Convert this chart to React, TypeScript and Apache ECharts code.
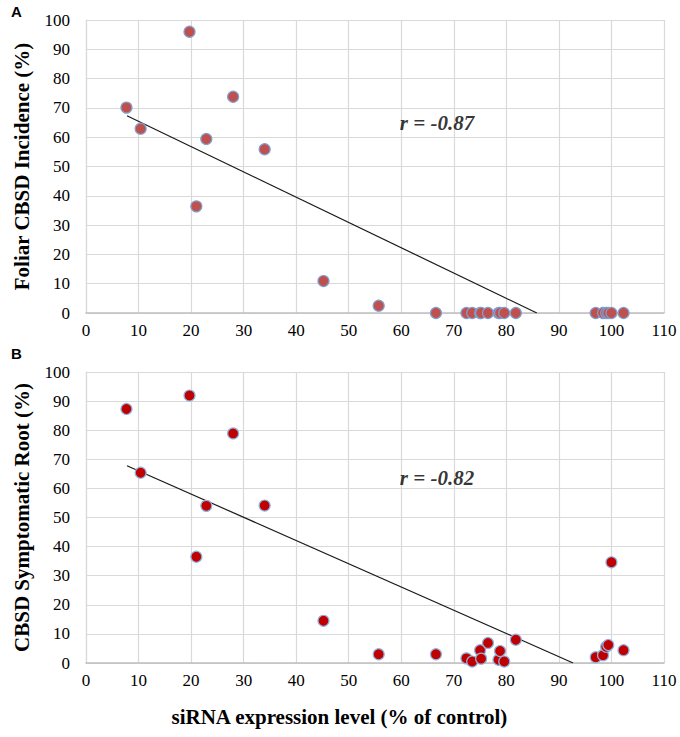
import React, { useEffect, useRef } from "react";
import * as echarts from "echarts";

const xValues = [7.7, 10.4, 19.7, 21.0, 22.9, 28.0, 34.0, 45.2, 55.7, 66.6, 72.4, 73.5, 75.0, 75.2, 76.5, 78.5, 78.8, 79.6, 81.8, 97.0, 98.4, 99.0, 99.4, 100.0, 102.3];
const foliarValues = [70.1, 62.9, 96.0, 36.4, 59.4, 73.8, 55.9, 10.9, 2.5, 0, 0, 0, 0, 0, 0, 0, 0, 0, 0, 0, 0, 0, 0, 0, 0];
const rootValues = [87.3, 65.4, 91.9, 36.5, 54.0, 78.9, 54.1, 14.5, 3.0, 3.0, 1.6, 0.5, 4.4, 1.5, 6.9, 1.1, 4.1, 0.5, 8.0, 2.0, 2.7, 5.6, 6.2, 34.6, 4.4];
const foliarTrend = [[7.8, 67.3], [85.8, 0]];
const rootTrend = [[7.8, 67.8], [92.7, 0]];
const foliarR = "r = -0.87";
const rootR = "r = -0.82";
const foliarRPos = [66.8, 64.8];
const rootRPos = [66.8, 63.6];
const xTicks = { min: 0, max: 110, interval: 10 };
const yTicks = { min: 0, max: 100, interval: 10 };
const yNames = ["Foliar CBSD Incidence (%)", "CBSD Symptomatic Root (%)"];
const xName = "siRNA expression level (% of control)";
const panelLetters = ["A", "B"];

const serif = "Liberation Serif";

export default function App() {
  const ref = useRef<HTMLDivElement>(null);
  useEffect(() => {
    const chart = echarts.init(ref.current!, null, { renderer: "svg" });
    const xAxis = [0, 1].map((i) => ({
      type: "value",
      gridIndex: i,
      min: xTicks.min,
      max: xTicks.max,
      interval: xTicks.interval,
      axisLine: { show: true, lineStyle: { color: "#BFBFBF", width: 1.5 } },
      axisTick: { show: false },
      axisLabel: { color: "#000000", fontFamily: serif, fontSize: 17, margin: 9 },
      splitLine: { show: true, lineStyle: { color: "#D9D9D9", width: 1.2 } },
    }));
    const yAxis = [0, 1].map((i) => ({
      type: "value",
      gridIndex: i,
      min: yTicks.min,
      max: yTicks.max,
      interval: yTicks.interval,
      name: yNames[i],
      nameLocation: "middle",
      nameGap: 54,
      nameTextStyle: { color: "#000000", fontFamily: serif, fontSize: 21, fontWeight: "bold" },
      axisLine: { show: true, lineStyle: { color: "#D9D9D9", width: 1.2 } },
      axisTick: { show: false },
      axisLabel: { color: "#000000", fontFamily: serif, fontSize: 17, margin: 16 },
      splitLine: { show: true, lineStyle: { color: "#D9D9D9", width: 1.2 } },
    }));
    chart.setOption({
      animation: false,
      backgroundColor: "#ffffff",
      grid: [
        { left: 86, top: 20, width: 578, height: 293 },
        { left: 86, top: 372, width: 578, height: 291 },
      ],
      xAxis,
      yAxis,
      graphic: [
        { type: "text", left: 11, top: 4, style: { text: panelLetters[0], fontFamily: "Liberation Sans", fontSize: 15, fontWeight: "bold", fill: "#000000" } },
        { type: "text", left: 11, top: 346, style: { text: panelLetters[1], fontFamily: "Liberation Sans", fontSize: 15, fontWeight: "bold", fill: "#000000" } },
        {
          type: "text",
          left: "center",
          top: 706,
          style: { text: xName, fontFamily: serif, fontSize: 21, fontWeight: "bold", fill: "#000000" },
        },
      ],
      series: [
        {
          type: "line",
          xAxisIndex: 0,
          yAxisIndex: 0,
          data: foliarTrend,
          symbol: "none",
          lineStyle: { color: "#1a1a1a", width: 1.2 },
          z: 2,
        },
        {
          type: "scatter",
          xAxisIndex: 0,
          yAxisIndex: 0,
          data: xValues.map((x, i) => [x, foliarValues[i]]),
          symbolSize: 11,
          itemStyle: { color: "#C0504D", borderColor: "#7F9FCF", borderWidth: 1.2, opacity: 1 },
          z: 3,
        },
        {
          type: "scatter",
          xAxisIndex: 0,
          yAxisIndex: 0,
          symbolSize: 1,
          itemStyle: { color: "rgba(0,0,0,0)" },
          data: [foliarRPos],
          label: { show: true, position: "inside", formatter: foliarR, color: "#000000", fontFamily: serif, fontSize: 21, fontWeight: "bold", fontStyle: "italic" },
          z: 5,
        },
        {
          type: "line",
          xAxisIndex: 1,
          yAxisIndex: 1,
          data: rootTrend,
          symbol: "none",
          lineStyle: { color: "#1a1a1a", width: 1.2 },
          z: 2,
        },
        {
          type: "scatter",
          xAxisIndex: 1,
          yAxisIndex: 1,
          data: xValues.map((x, i) => [x, rootValues[i]]),
          symbolSize: 11,
          itemStyle: { color: "#C00000", borderColor: "#8DB4E2", borderWidth: 1.2, opacity: 1 },
          z: 3,
        },
        {
          type: "scatter",
          xAxisIndex: 1,
          yAxisIndex: 1,
          symbolSize: 1,
          itemStyle: { color: "rgba(0,0,0,0)" },
          data: [rootRPos],
          label: { show: true, position: "inside", formatter: rootR, color: "#000000", fontFamily: serif, fontSize: 21, fontWeight: "bold", fontStyle: "italic" },
          z: 5,
        },
      ],
    });
    return () => chart.dispose();
  }, []);
  return <div ref={ref} style={{ width: 680, height: 737, position: "absolute", left: 0, top: 0 }} />;
}
